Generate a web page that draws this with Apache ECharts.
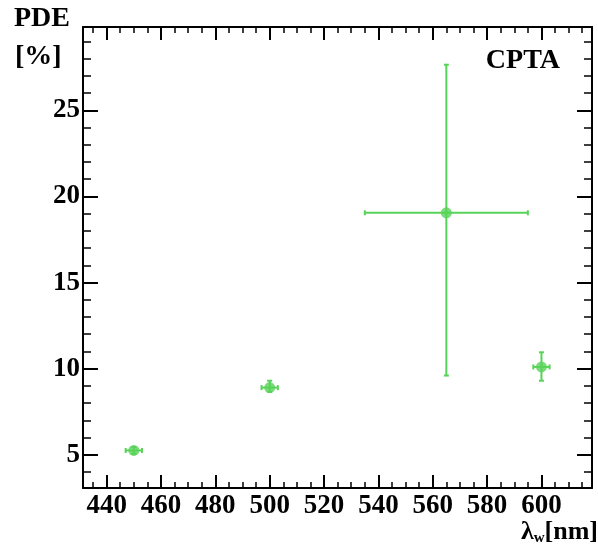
<!DOCTYPE html>
<html>
<head>
<meta charset="utf-8">
<script src="https://cdn.jsdelivr.net/npm/echarts@6/dist/echarts.min.js"></script>
<style>
  html, body { margin: 0; padding: 0; background: #fff; }
  #chart { width: 598px; height: 549px; }
</style>
</head>
<body>
<div id="chart"></div>
<script>
// measured points: wavelength [nm] and photon detection efficiency [%]
const wavelength = [450, 500, 565, 600];
const wavelengthErr = [3, 3, 30, 3];
const pde = [5.25, 8.9, 19.05, 10.1];
const pdeErrLow = [0.2, 0.25, 9.45, 0.8];
const pdeErrHigh = [0.2, 0.4, 8.6, 0.85];

const GREEN = '#57d357';
const FONT = 'Liberation Serif';
const X_RANGE = [431.3, 618.6];
const Y_RANGE = [3.07, 29.84];

const chart = echarts.init(document.getElementById('chart'));

const points = wavelength.map((w, i) => [w, pde[i], wavelengthErr[i], pdeErrLow[i], pdeErrHigh[i]]);

// frame axis; major=true carries the line, minor ones only ticks
function xAx(pos, major, labels) {
  return {
    type: 'value', position: pos, min: X_RANGE[0], max: X_RANGE[1],
    splitNumber: major ? 9 : 37,
    axisLine: { show: major, lineStyle: { color: '#000', width: 2 } },
    axisTick: { inside: true, length: major ? 13 : 6, lineStyle: { color: '#000', width: major ? 2 : 1.5 } },
    axisLabel: {
      show: labels, margin: 5, fontFamily: FONT, fontWeight: 'bold', fontSize: 27, color: '#000',
      showMinLabel: false, showMaxLabel: false
    },
    splitLine: { show: false }
  };
}
function yAx(pos, major, labels) {
  return {
    type: 'value', position: pos, min: Y_RANGE[0], max: Y_RANGE[1],
    splitNumber: major ? 5 : 26,
    axisLine: { show: major, lineStyle: { color: '#000', width: 2 } },
    axisTick: { inside: true, length: major ? 15 : 8, lineStyle: { color: '#000', width: major ? 2 : 1.5 } },
    axisLabel: {
      show: labels, margin: 3, fontFamily: FONT, fontWeight: 'bold', fontSize: 27, color: '#000',
      showMinLabel: false, showMaxLabel: false
    },
    splitLine: { show: false }
  };
}

const titleStyle = { fontFamily: FONT, fontWeight: 'bold', fontSize: 28, color: '#000' };

const option = {
  backgroundColor: '#fff',
  animation: false,
  title: [
    { text: 'PDE', left: 14, top: 5, padding: 0, textStyle: titleStyle },
    { text: '[%]', left: 15, top: 43, padding: 0, textStyle: titleStyle },
    { text: 'CPTA', right: 38, top: 47, padding: 0, textStyle: titleStyle },
    { text: '{a|λ}{s|w}{a|[nm]}', right: 0, top: 518, padding: 0,
      textStyle: {
        rich: {
          a: { fontFamily: FONT, fontWeight: 'bold', fontSize: 26, color: '#000', lineHeight: 28 },
          s: { fontFamily: FONT, fontWeight: 'bold', fontSize: 15, color: '#000', lineHeight: 15,
               verticalAlign: 'bottom', padding: [14, 0, 0, 0] }
        }
      } }
  ],
  grid: { left: 83, right: 6, top: 27, bottom: 61, containLabel: false, outerBoundsMode: 'none' },
  xAxis: [xAx('bottom', true, true), xAx('bottom', false, false), xAx('top', true, false), xAx('top', false, false)],
  yAxis: [yAx('left', true, true), yAx('left', false, false), yAx('right', true, false), yAx('right', false, false)],
  series: [
    {
      type: 'custom',
      xAxisIndex: 0, yAxisIndex: 0,
      data: points,
      encode: { x: 0, y: 1 },
      z: 2,
      renderItem: function (params, api) {
        const x = api.value(0), y = api.value(1);
        const ex = api.value(2), lo = api.value(3), hi = api.value(4);
        const l = api.coord([x - ex, y]), r = api.coord([x + ex, y]);
        const t = api.coord([x, y + hi]), b = api.coord([x, y - lo]);
        const cap = 2.5;
        const st = { stroke: GREEN, lineWidth: 2 };
        const ln = (x1, y1, x2, y2) => ({ type: 'line', shape: { x1, y1, x2, y2 }, style: st });
        return {
          type: 'group',
          children: [
            ln(l[0], l[1], r[0], r[1]),
            ln(t[0], t[1], b[0], b[1]),
            ln(l[0], l[1] - cap, l[0], l[1] + cap),
            ln(r[0], r[1] - cap, r[0], r[1] + cap),
            ln(t[0] - cap, t[1], t[0] + cap, t[1]),
            ln(b[0] - cap, b[1], b[0] + cap, b[1])
          ]
        };
      }
    },
    {
      type: 'scatter',
      xAxisIndex: 0, yAxisIndex: 0,
      data: points.map(p => [p[0], p[1]]),
      symbol: 'circle',
      symbolSize: 11,
      itemStyle: { color: GREEN },
      z: 3
    }
  ]
};

chart.setOption(option);
</script>
</body>
</html>
